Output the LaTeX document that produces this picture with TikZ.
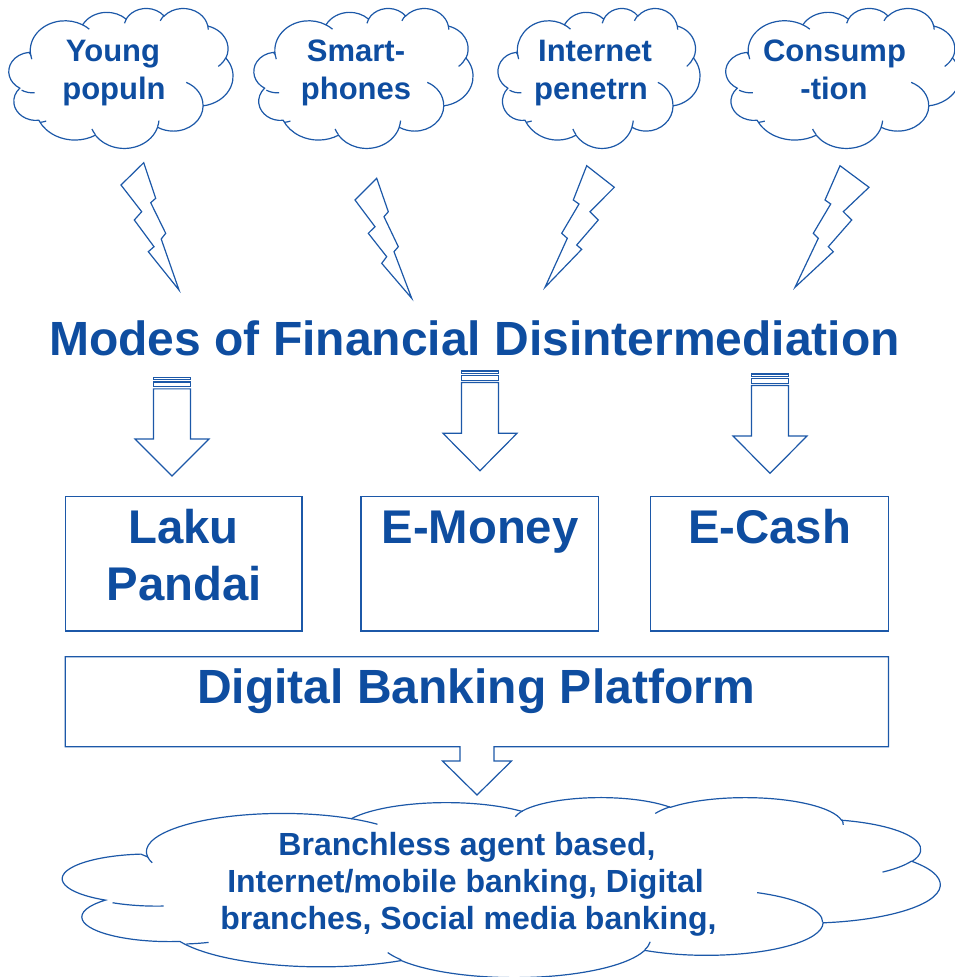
\documentclass[tikz,border=0pt]{standalone}
\usepackage{fontspec}
\setmainfont{Liberation Sans}
\definecolor{txtblue}{RGB}{14,77,160}
\definecolor{lineblue}{RGB}{28,88,168}
\pgfmathdeclarefunction{visang}{3}{%
  \begingroup
  \pgfmathparse{(#1)+asin(sin(atan2((#2)*sin(#1),(#3)*cos(#1))-(#1)))}%
  \pgfmathsmuggle\pgfmathresult
  \endgroup}
\tikzset{
  shapeline/.style={draw=lineblue, line width=1.2pt, line join=miter},
  boxst/.style={shapeline, fill=white, inner sep=0pt, outer sep=0pt},
  bigtxt/.style={text=txtblue, font=\fontsize{47.3}{56}\selectfont\bfseries, inner sep=0pt, anchor=base},
  hugetxt/.style={text=txtblue, font=\fontsize{48}{56}\selectfont\bfseries, inner sep=0pt, anchor=base},
  cloudtxt/.style={text=txtblue, font=\fontsize{31}{37}\selectfont\bfseries, inner sep=0pt, anchor=base},
  bottxt/.style={text=txtblue, font=\fontsize{32}{37}\selectfont\bfseries, inner sep=0pt, anchor=base},
  ca/.style n args={4}{x radius=#1, y radius=#2, start angle={visang(#3,#1,#2)}, end angle={visang(#4,#1,#2)}},
}
\newcommand{\pcloud}[4]{%
  \pgfmathsetmacro\cldx{#3/4320}\pgfmathsetmacro\cldy{-#4/4320}%
  \begin{scope}[shift={(#1,#2)},x=\cldx pt,y=\cldy pt]
  \draw[shapeline,fill=white] (390,1437)
    arc[ca={675.3}{919.0}{-190.4875}{-66.7070}]
    arc[ca={533.3}{726.7}{-144.1024}{-54.1572}]
    arc[ca={436.5}{594.5}{-145.8079}{-46.0849}]
    arc[ca={485.7}{659.5}{-130.9861}{-13.7443}]
    arc[ca={533.3}{727.3}{-78.7089}{30.3180}]
    arc[ca={677.5}{922.0}{-46.2673}{84.0018}]
    arc[ca={578.5}{786.7}{0.6250}{114.6583}]
    arc[ca={675.2}{921.5}{22.4516}{137.6242}]
    arc[ca={772.0}{1054.3}{66.2426}{147.5888}]
    arc[ca={436.0}{591.8}{-274.9421}{-128.2065}]
    arc[ca={434.5}{594.5}{-246.8285}{-94.3097}] -- cycle;
  \draw[shapeline]
    (469.3,2617.7) arc[ca={434.5}{594.5}{86.7420}{113.1715}]
    (692.8,3489.9) arc[ca={436.0}{591.8}{73.6105}{85.0579}]
    (1647.8,3909.0) arc[ca={675.2}{921.5}{137.6242}{151.7052}]
    (2882.7,3475.1) arc[ca={675.2}{921.5}{6.4533}{22.4516}]
    (3412.9,2295.4) arc[ca={578.5}{786.7}{-70.2924}{0.6250}]
    (4179.8,1535.4) arc[ca={533.3}{727.3}{30.3180}{58.0695}]
    (3832.4,542.6) arc[ca={485.7}{659.5}{-13.7443}{1.1146}]
    (2907.8,395.2) arc[ca={485.7}{659.5}{-149.1815}{-130.9861}]
    (2214.1,472.0) arc[ca={436.5}{594.5}{-163.4943}{-145.8079}]
    (1400.0,519.2) arc[ca={675.3}{919.0}{-66.7070}{-54.3876}]
    (412.7,1578.9) arc[ca={675.3}{919.0}{157.6544}{169.5126}];
  \end{scope}}
\newcommand{\sarrow}[5]{% name, cx, top, head y, tip y
  \draw[shapeline,fill=white] (#2-18.5,#3) rectangle (#2+18.5,#3+2.31);
  \draw[shapeline,fill=white] (#2-18.5,#3+4.62) rectangle (#2+18.5,#3+9.25);
  \draw[shapeline,fill=white] (#2-18.5,#3+11.56) -- (#2-18.5,#4) -- (#2-37,#4)
     -- (#2,#5) coordinate (#1) -- (#2+37,#4) -- (#2+18.5,#4) -- (#2+18.5,#3+11.56) -- cycle;}
\begin{document}
\begin{tikzpicture}[x=1pt,y=-1pt]
\useasboundingbox (0,0) rectangle (955,977);
% top clouds
\pcloud{10.5}{8}{222.5}{140}
\pcloud{255.5}{8}{217.5}{140}
\pcloud{499.5}{8}{200.5}{140}
\pcloud{727.5}{8}{232.5}{140}
\node[cloudtxt] (c1a) at (113,61.7) {Young};
\node[cloudtxt] (c1b) at (114,99.5) {populn};
\node[cloudtxt] (c2a) at (356,61.7) {Smart-};
\node[cloudtxt] (c2b) at (356,99.5) {phones};
\node[cloudtxt] (c3a) at (595,61.7) {Internet};
\node[cloudtxt] (c3b) at (591,99.5) {penetrn};
\node[cloudtxt] (c4a) at (834.5,61.7) {Consump};
\node[cloudtxt] (c4b) at (834,99.5) {-tion};
% lightning bolts
\draw[shapeline] (143.7,162.7) -- (121,185) -- (141.7,211.7) -- (134.3,220) -- (154,246.7) -- (148.3,251.7) -- (179,290) -- (161.2,239) -- (165.7,233.3) -- (150.7,202.7) -- (155.7,198.3) -- cycle;
\draw[shapeline] (376.7,178.3) -- (355,200) -- (375,226.7) -- (368.3,233.3) -- (386.7,256.7) -- (381.7,263.3) -- (411.7,298.3) -- (394,251.7) -- (398.3,246.7) -- (384,216.7) -- (388.3,211.7) -- cycle;
\draw[shapeline] (586.7,165.7) -- (614.3,187.3) -- (590,211.7) -- (598.3,220) -- (576.7,245) -- (581.7,249.3) -- (545,287.3) -- (567.3,238.3) -- (561.7,233.3) -- (579,204) -- (573.3,200) -- cycle;
\draw[shapeline] (840,165.7) -- (869,187.3) -- (843.3,211.7) -- (851.7,220) -- (828.3,246.7) -- (833.3,251.7) -- (795,287.3) -- (818.3,238.3) -- (813.3,233.3) -- (830.7,204) -- (825,200) -- cycle;
% title
\node[hugetxt] (title) at (474.5,355) {Modes of Financial Disintermediation};
% striped arrows
\sarrow{a1}{172}{377.3}{439}{476}
\sarrow{a2}{480}{371}{433.3}{470.7}
\sarrow{a3}{770}{374}{436}{473.3}
% boxes
\node[boxst, minimum width=236.7pt, minimum height=134.3pt] (laku) at (183.65,563.85) {};
\node[boxst, minimum width=237.4pt, minimum height=134.3pt] (emoney) at (479.7,563.85) {};
\node[boxst, minimum width=237.9pt, minimum height=134.3pt] (ecash) at (769.55,563.85) {};
\node[bigtxt] (lakua) at (183.6,543.3) {Laku};
\node[bigtxt] (lakub) at (184.3,600) {Pandai};
\node[bigtxt] (emt) at (480,543.3) {E-Money};
\node[bigtxt] (ect) at (769.5,543.3) {E-Cash};
% digital banking platform callout
\draw[shapeline,fill=white] (65.3,656.7) -- (888.5,656.7) -- (888.5,746.7) -- (494,746.7) -- (494,761) -- (511.5,761)
   -- (477,795) coordinate (dbptip) -- (442.5,761) -- (460,761) -- (460,746.7) -- (65.3,746.7) -- cycle;
\node[hugetxt] (dbp) at (476,703.3) {Digital Banking Platform};
% bottom cloud
\pcloud{69}{797}{871}{180}
\node[bottxt] (b1) at (467,855.5) {Branchless agent based,};
\node[bottxt] (b2) at (465.5,892.5) {Internet/mobile banking, Digital};
\node[bottxt] (b3) at (468.5,929) {branches, Social media banking,};
\end{tikzpicture}
\end{document}
